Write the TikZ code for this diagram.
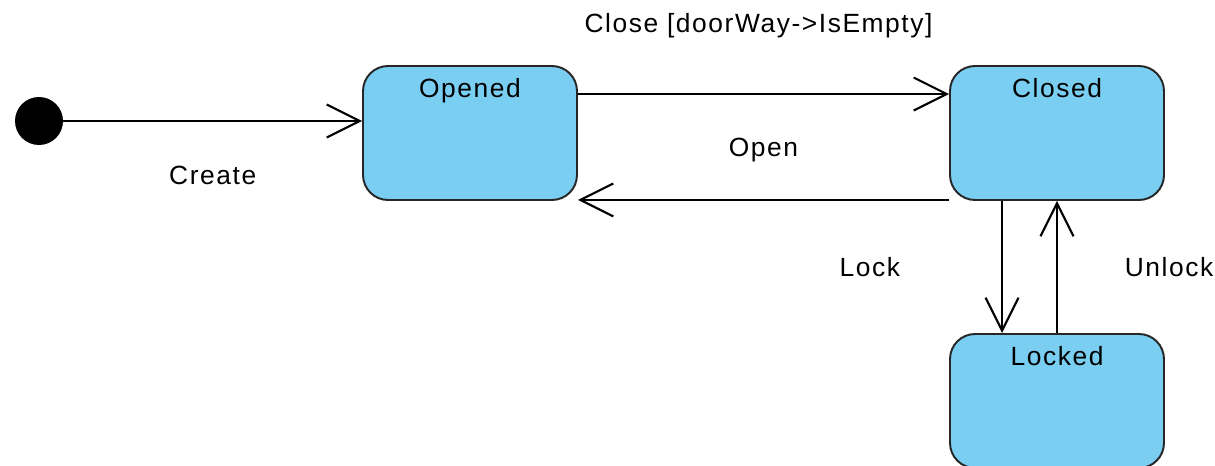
\documentclass[tikz,border=0pt]{standalone}
\usepackage{fontspec}
\setmainfont{Liberation Sans}[LetterSpace=6]
\usetikzlibrary{arrows.meta}
\definecolor{statefill}{RGB}{122,206,242}
\tikzset{
  statebox/.style={
    rectangle,
    rounded corners=0.5cm,
    draw=black!85,
    line width=1.1pt,
    fill=statefill,
    minimum width=4.28cm,
    inner ysep=0pt,
    text height=0.62cm,
    text depth=2.06cm
  }
}
\tikzset{
  startdot/.style={
    circle,
    fill=black,
    minimum size=0.96cm,
    inner sep=0pt
  }
}
\tikzstyle{trans} = [-{Straight Barb[length=0.66cm, width=0.66cm]}, line width=1.2pt]

\begin{document}
\begin{tikzpicture}[x=0.02cm, y=-0.02cm, every node/.style={font=\fontsize{15}{18}\selectfont}]
  \useasboundingbox (0,0) rectangle (1215,466);
  \node[startdot] (init) at (39,121) {};
  \node[statebox] (opened) at (470,133) {Opened};
  \node[statebox] (closed) at (1057,133) {Closed};
  \node[statebox] (locked) at (1057,401) {Locked};
  \draw[trans] (init) to node [yshift=-1.08cm] {Create} (init -| opened.west);
  \draw[trans] ([yshift=-0.58cm]opened.north east) to node [yshift=1.36cm, xshift=-0.1cm] {Close [doorWay->IsEmpty]} ([yshift=-0.58cm]closed.north west);
  \draw[trans] ([yshift=0.02cm]closed.south west) to node [yshift=1.0cm] {Open} ([yshift=0.02cm]opened.south east);
  \draw[trans] ([xshift=1.06cm]closed.south west) to node [left, xshift=-1.9cm] {Lock} ([xshift=1.06cm]locked.north west);
  \draw[trans] (locked.north) to node [right, xshift=1.22cm] {Unlock} (closed.south);
\end{tikzpicture}
\end{document}
